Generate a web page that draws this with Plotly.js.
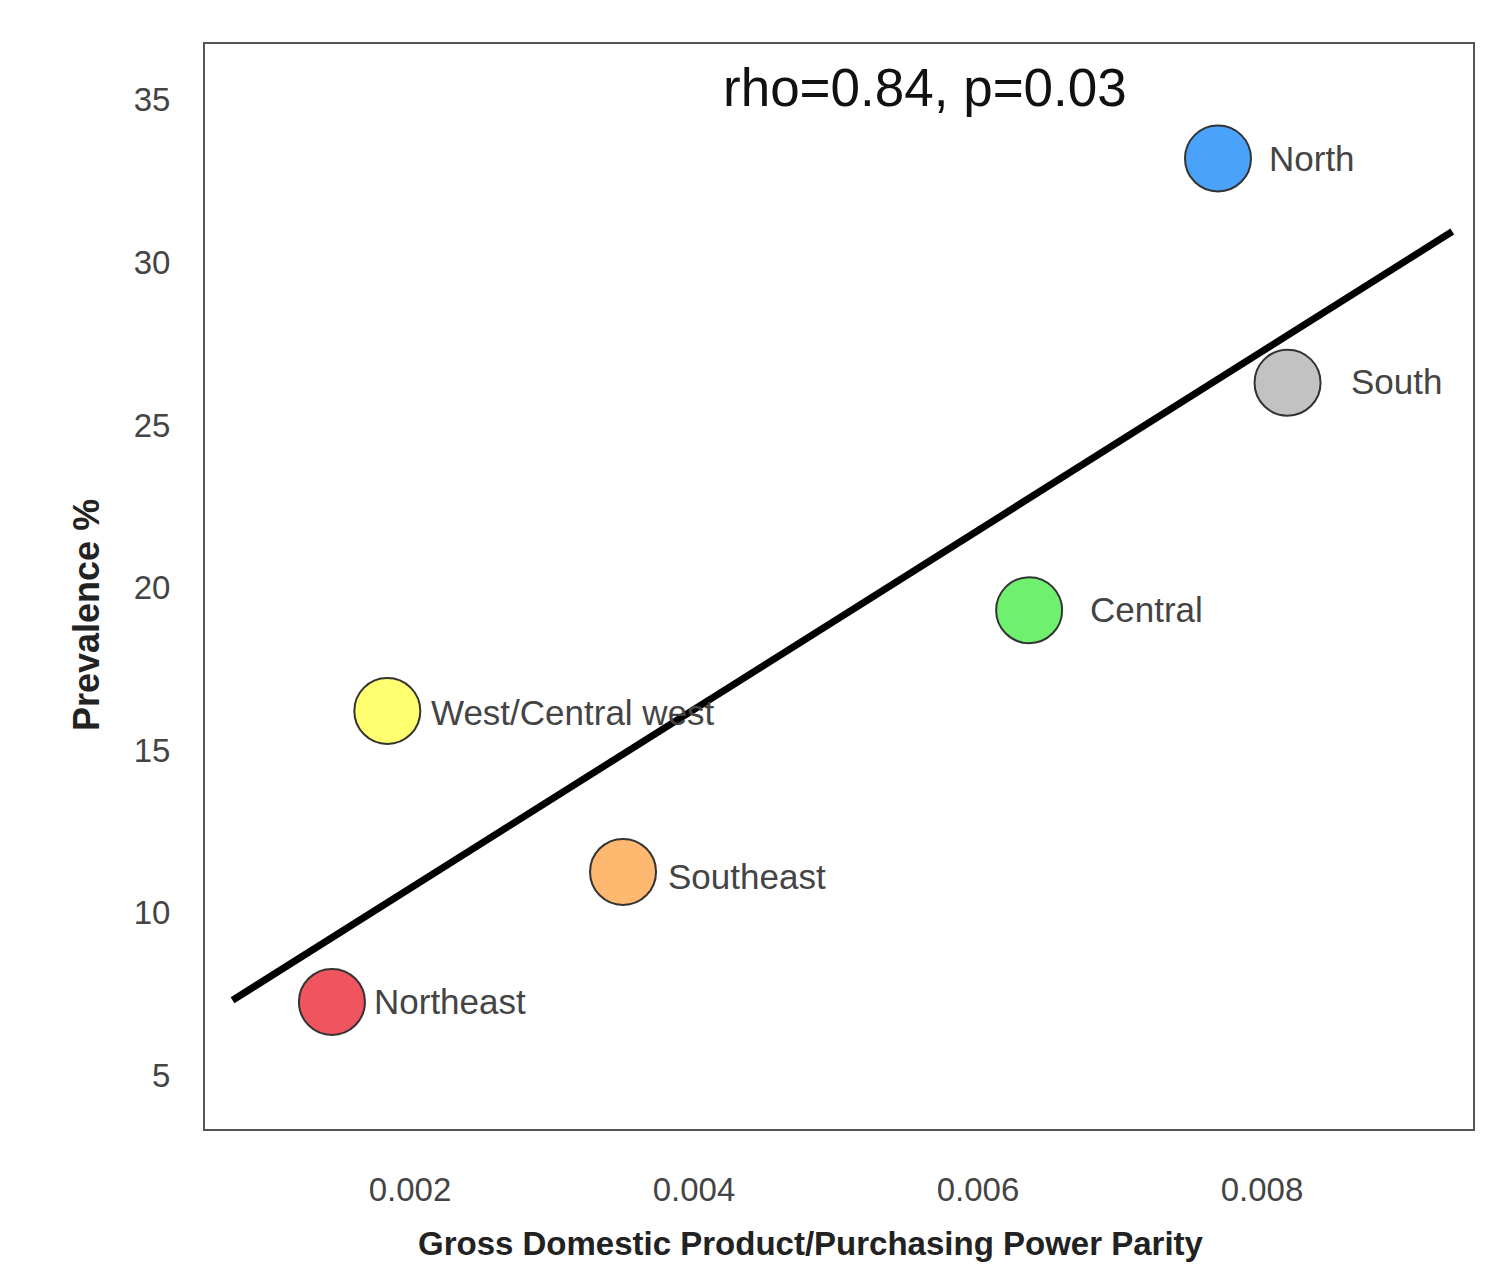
<!DOCTYPE html>
<html>
<head>
<meta charset="utf-8">
<script src="https://cdn.plot.ly/plotly-3.0.1.min.js"></script>
<style>html,body{margin:0;padding:0;background:#fff;}#chart{width:1499px;height:1265px;}</style>
</head>
<body>
<div id="chart"></div>
<script>
// Data
const regions = ["North", "South", "Central", "West/Central west", "Southeast", "Northeast"];
const gdpPpp = [0.00769, 0.00818, 0.00636, 0.00184, 0.00350, 0.00145];
const prevalence = [33.2, 26.3, 19.3, 16.2, 11.25, 7.25];
const fitX = [0.00075, 0.00934];
const fitY = [7.3, 30.95];
const xTicks = [0.002, 0.004, 0.006, 0.008];
const xTickLabels = ["0.002", "0.004", "0.006", "0.008"];
const yTicks = [5, 10, 15, 20, 25, 30, 35];
const statText = "rho=0.84, p=0.03";

// Styles
const colors = ["#4aa2fa", "#c2c2c2", "#6ff06f", "#ffff70", "#ffb870", "#f0545e"];
const labelShiftX = [49, 61, 59, 42, 43, 40];
const labelShiftY = [0, 1, 1, -2, -5, 0];
const font = "Liberation Sans, Arial, sans-serif";

const traces = [
  {
    x: fitX, y: fitY, mode: "lines", type: "scatter",
    line: {color: "#000", width: 7}, hoverinfo: "skip", showlegend: false
  },
  {
    x: gdpPpp, y: prevalence, text: regions, mode: "markers", type: "scatter",
    marker: {size: 66, color: colors, line: {color: "#333", width: 2}},
    showlegend: false
  }
];

const annotations = regions.map((r, i) => ({
  text: r, x: gdpPpp[i], y: prevalence[i], xref: "x", yref: "y",
  xanchor: "left", yanchor: "middle", xshift: labelShiftX[i], yshift: labelShiftY[i],
  showarrow: false, font: {family: font, size: 35, color: "#444"}
}));

annotations.push(
  {
    text: statText, xref: "paper", yref: "paper",
    x: (925 - 205) / 1268, y: (1129 - 87) / 1085,
    xanchor: "center", yanchor: "middle", showarrow: false,
    font: {family: font, size: 53, color: "#111"}
  },
  {
    text: "<b>Gross Domestic Product/Purchasing Power Parity</b>", xref: "paper", yref: "paper",
    x: (811 - 205) / 1268, y: (1129 - 1243) / 1085,
    xanchor: "center", yanchor: "middle", showarrow: false,
    font: {family: font, size: 33, color: "#222"}
  },
  {
    text: "<b>Prevalence %</b>", xref: "paper", yref: "paper",
    x: (86 - 205) / 1268, y: (1129 - 615) / 1085,
    xanchor: "center", yanchor: "middle", showarrow: false, textangle: -90,
    font: {family: font, size: 36, color: "#222"}
  }
);

const layout = {
  width: 1499, height: 1265,
  margin: {l: 205, r: 26, t: 44, b: 136},
  paper_bgcolor: "#fff", plot_bgcolor: "#fff",
  font: {family: font, color: "#333"},
  xaxis: {
    range: [0.000556, 0.009486], tickvals: xTicks, ticktext: xTickLabels,
    showgrid: false, zeroline: false,
    showline: true, mirror: true, linecolor: "#555", linewidth: 2,
    ticks: "outside", ticklen: 30, tickcolor: "rgba(0,0,0,0)",
    tickfont: {family: font, size: 33, color: "#444"}
  },
  yaxis: {
    range: [3.34, 36.72], tickvals: yTicks,
    showgrid: false, zeroline: false,
    showline: true, mirror: true, linecolor: "#555", linewidth: 2,
    ticks: "outside", ticklen: 26, tickcolor: "rgba(0,0,0,0)",
    tickfont: {family: font, size: 33, color: "#444"}
  },
  annotations: annotations
};

Plotly.newPlot("chart", traces, layout, {displayModeBar: false, staticPlot: true});
</script>
</body>
</html>
